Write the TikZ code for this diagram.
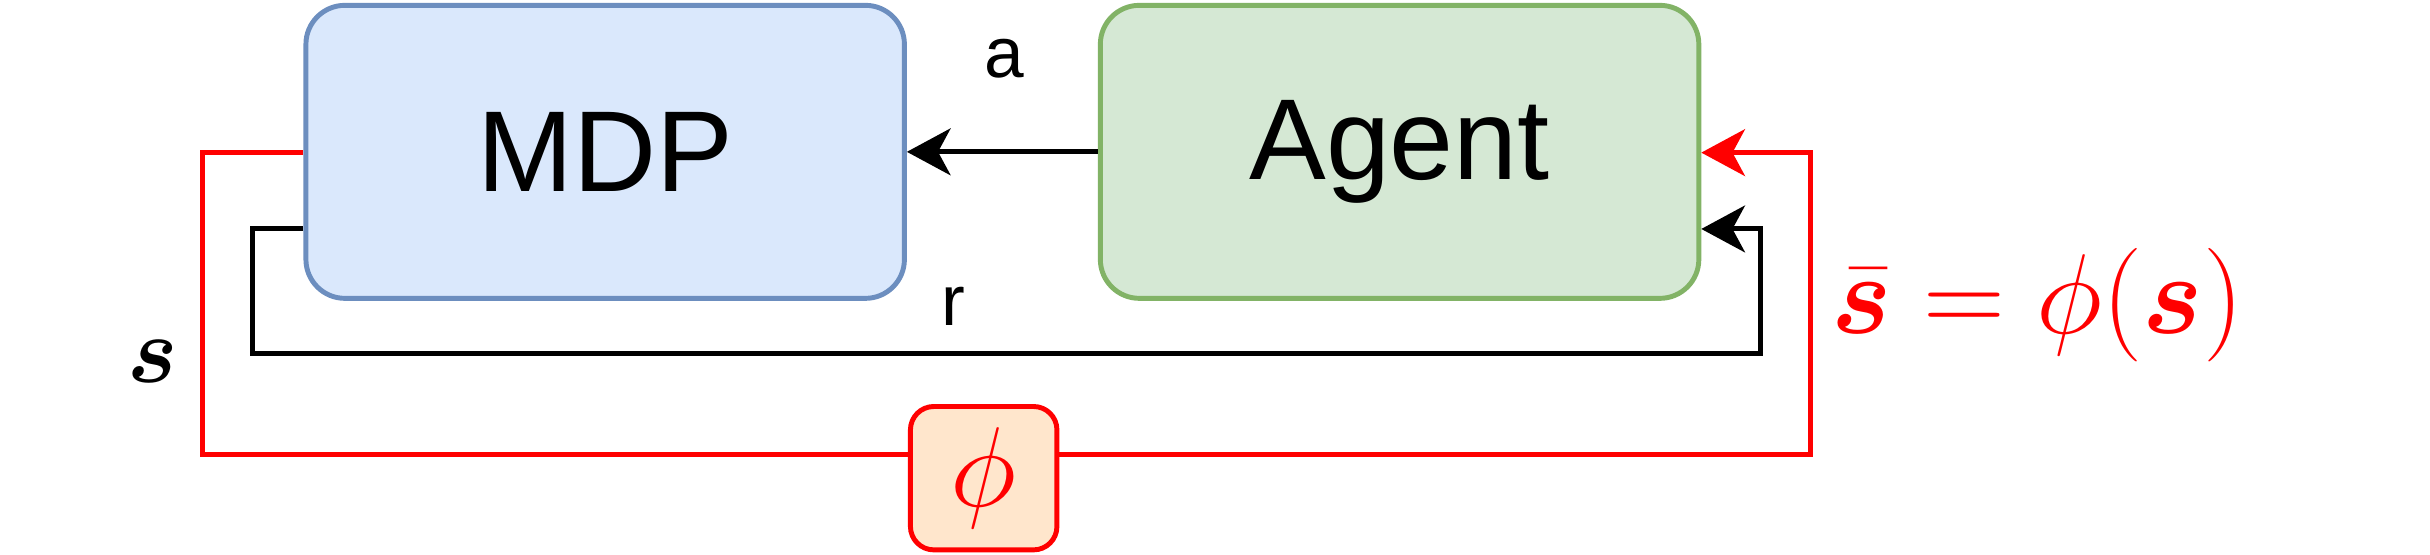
\documentclass[tikz,border=0pt]{standalone}
\usepackage{amsmath}
\usepackage{bm}
\usepackage{fontspec}
\setmainfont{Liberation Sans}
\usetikzlibrary{arrows.meta}
\definecolor{mdpfill}{HTML}{DAE8FC}
\definecolor{mdpline}{HTML}{6C8EBF}
\definecolor{agfill}{HTML}{D5E8D4}
\definecolor{agline}{HTML}{82B366}
\definecolor{phifill}{HTML}{FFE6CC}
\tikzset{
  blockbox/.style={draw, rounded corners=0.25cm, line width=0.9pt, minimum width=3.84cm, minimum height=1.88cm, font=\fontsize{21}{25}\selectfont},
  wire/.style={line width=0.9pt},
  tip/.style={-{Stealth[length=0.28cm, width=0.3cm, inset=0.08cm]}}
}
\begin{document}
\begin{tikzpicture}[x=0.01cm, y=-0.01cm]
    \useasboundingbox (0,0) rectangle (1560,356);
    % Blocks.
    \node[blockbox, fill=mdpfill, draw=mdpline] (mdp) at (388.5,97.5) {MDP};
    \node[blockbox, fill=agfill, draw=agline] (agent) at (898.5,97.5) {Agent};
    \node[draw=red, fill=phifill, rounded corners=0.15cm, line width=0.9pt, minimum width=0.94cm, minimum height=0.92cm, inner sep=0pt] (phi) at (631.5,307) {\color{red}\fontsize{20}{24}\selectfont$\phi$};
    % Labels.
    \node[font=\fontsize{13}{16}\selectfont] (alab) at (645,38) {a};
    \node[font=\fontsize{13}{16}\selectfont] (rlab) at (612,197) {r};
    \node (slab) at (98,232) {\fontsize{17}{20}\selectfont$\bm{s}$};
    \node[text=red] (sbar) at (1308,196) {\fontsize{21}{25}\selectfont$\bm{\bar{s}}=\phi(\bm{s})$};
    % Action.
    \draw[wire, tip] (agent.west) -- (mdp.east);
    % Reward.
    \draw[wire, tip] (mdp.west |- 0,147) -- (162,147) -- (162,227) -- (1130,227) -- (1130,147) -- (agent.east |- 0,147);
    % State.
    \draw[wire, red] (mdp.west |- 0,98) -- (130,98) -- (130,292) -- (phi.west |- 0,292);
    \draw[wire, red, tip] (phi.east |- 0,292) -- (1162,292) -- (1162,98) -- (agent.east |- 0,98);
\end{tikzpicture}
\end{document}
